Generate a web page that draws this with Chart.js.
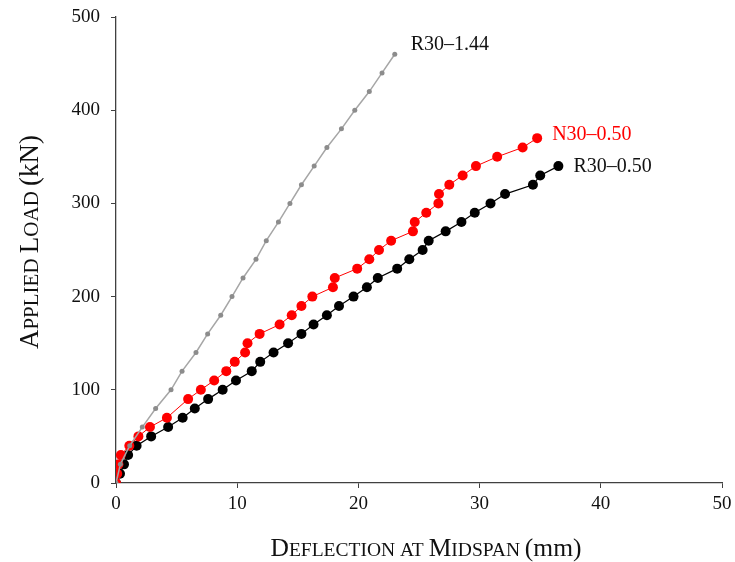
<!DOCTYPE html>
<html>
<head>
<meta charset="utf-8">
<script src="https://cdn.jsdelivr.net/npm/chart.js@4.4.1/dist/chart.umd.min.js"></script>
<style>
  html, body { margin: 0; padding: 0; background: #fff; }
  #wrap { width: 735px; height: 562px; }
</style>
</head>
<body>
<div id="wrap"><canvas id="loadChart" width="735" height="562"></canvas></div>
<script>
// Load-deflection data

// R30-1.44 (grey, small markers)
const grayDefl = [0, 0.36, 1.13, 2.17, 3.27, 4.54, 5.45, 6.6, 7.56, 8.64, 9.57, 10.48,
	11.55, 12.4, 13.4, 14.35, 15.3, 16.35, 17.4, 18.6, 19.7, 20.9, 21.95, 23.0];
const grayLoad = [0, 20, 40, 60, 80, 100, 120, 140, 160, 180, 200, 220,
	240, 260, 280, 300, 320, 340, 360, 380, 400, 420, 440, 460];

// N30-0.50 (red)
const redDefl = [0, 0.1, 0.2, 0.4, 1.1, 1.85, 2.8, 4.2, 5.95, 7.0, 8.1, 9.1, 9.8,
	10.65, 10.85, 11.85, 13.5, 14.5, 15.3, 16.2, 17.9, 18.05, 19.9, 20.9, 21.7, 22.7,
	24.5, 24.65, 25.6, 26.6, 26.65, 27.5, 28.6, 29.7, 31.45, 33.55, 34.75];
const redLoad = [0, 10, 20, 30, 40, 50, 60, 70, 90, 100, 110, 120, 130,
	140, 150, 160, 170, 180, 190, 200, 210, 220, 230, 240, 250, 260,
	270, 280, 290, 300, 310, 320, 330, 340, 350, 360, 370];

// R30-0.50 (black)
const blackDefl = [0, 0.33, 0.66, 1.0, 1.7, 2.9, 4.3, 5.5, 6.5, 7.6, 8.8, 9.9, 11.2,
	11.9, 13.0, 14.2, 15.3, 16.3, 17.4, 18.4, 19.6, 20.7, 21.6, 23.2, 24.2, 25.3,
	25.8, 27.2, 28.5, 29.6, 30.9, 32.1, 34.4, 35.0, 36.5];
const blackLoad = [0, 10, 20, 30, 40, 50, 60, 70, 80, 90, 100, 110, 120,
	130, 140, 150, 160, 170, 180, 190, 200, 210, 220, 230, 240, 250,
	260, 270, 280, 290, 300, 310, 320, 330, 340];

const seriesNames = ["R30\u20131.44", "N30\u20130.50", "R30\u20130.50"];
const xTicks = [0, 10, 20, 30, 40, 50];
const yTicks = [0, 100, 200, 300, 400, 500];

// axis titles, split in [text, smallCaps] pieces
const xTitle = [["D", false], ["EFLECTION AT ", true], ["M", false], ["IDSPAN ", true], ["(mm)", false]];
const yTitle = [["A", false], ["PPLIED ", true], ["L", false], ["OAD ", true], ["(kN)", false]];

function toPoints(xs, ys){
	return xs.map((x, i) => ({ x: x, y: ys[i] }));
}

const serif = "'Liberation Serif', 'Times New Roman', serif";

function drawPieces(ctx, pieces, cx, cy, big, small){
	let total = 0;
	pieces.forEach(p => {
		ctx.font = (p[1] ? small : big) + "px " + serif;
		total += ctx.measureText(p[0]).width;
	});
	let x = cx - total / 2;
	pieces.forEach(p => {
		ctx.font = (p[1] ? small : big) + "px " + serif;
		ctx.fillText(p[0], x, cy);
		x += ctx.measureText(p[0]).width;
	});
}

// axis titles with small capitals
const axisTitles = {
	id: "axisTitles",
	afterDraw(chart){
		const ctx = chart.ctx;
		ctx.save();
		ctx.fillStyle = "#111";
		ctx.textBaseline = "alphabetic";
		ctx.textAlign = "left";
		drawPieces(ctx, xTitle, 426, 556, 25.5, 19.5);
		ctx.translate(38, 242);
		ctx.rotate(-Math.PI / 2);
		drawPieces(ctx, yTitle, 0, 0, 27, 21);
		ctx.restore();
	}
};

// write the series name next to the last point of each line
const endLabels = {
	id: "endLabels",
	afterDatasetsDraw(chart){
		const ctx = chart.ctx;
		const offsets = [[16, -10], [15, -3], [15, 1]];
		ctx.save();
		ctx.font = "20px " + serif;
		ctx.textBaseline = "middle";
		ctx.textAlign = "left";
		chart.data.datasets.forEach((ds, i) => {
			const meta = chart.getDatasetMeta(i);
			const last = meta.data[meta.data.length - 1];
			ctx.fillStyle = ds.labelColor;
			ctx.fillText(ds.label, last.x + offsets[i][0], last.y + offsets[i][1]);
		});
		ctx.restore();
	}
};

const ctx = document.getElementById("loadChart").getContext("2d");
new Chart(ctx, {
	type: "scatter",
	data: {
		datasets: [
			{
				label: seriesNames[0],
				data: toPoints(grayDefl, grayLoad),
				showLine: true,
				borderColor: "#a6a6a6",
				borderWidth: 1.5,
				pointRadius: 2.5,
				pointBackgroundColor: "#8c8c8c",
				pointBorderColor: "#8c8c8c",
				pointBorderWidth: 0,
				labelColor: "#111"
			},
			{
				label: seriesNames[1],
				data: toPoints(redDefl, redLoad),
				showLine: true,
				borderColor: "#ff0000",
				borderWidth: 1,
				pointRadius: 5,
				pointBackgroundColor: "#ff0000",
				pointBorderColor: "#ff0000",
				pointBorderWidth: 0,
				labelColor: "#ff0000"
			},
			{
				label: seriesNames[2],
				data: toPoints(blackDefl, blackLoad),
				showLine: true,
				borderColor: "#000",
				borderWidth: 1.2,
				pointRadius: 5,
				pointBackgroundColor: "#000",
				pointBorderColor: "#000",
				pointBorderWidth: 0,
				labelColor: "#111"
			}
		]
	},
	options: {
		responsive: false,
		animation: false,
		layout: { padding: { top: 17, right: 13, left: 0, bottom: 0 } },
		plugins: {
			legend: { display: false },
			tooltip: { enabled: false }
		},
		scales: {
			x: {
				type: "linear",
				min: 0,
				max: 50,
				afterBuildTicks: s => { s.ticks = xTicks.map(v => ({ value: v })); },
				afterFit: s => { s.height = 79; s.paddingLeft = 0; s.paddingRight = 0; },
				border: { display: true, color: "#404040", width: 1.3 },
				grid: { display: true, drawOnChartArea: false, drawTicks: true, tickLength: 5, color: "#404040" },
				ticks: { color: "#111", padding: 5, font: { family: serif, size: 19 } }
			},
			y: {
				type: "linear",
				min: 0,
				max: 500,
				afterBuildTicks: s => { s.ticks = yTicks.map(v => ({ value: v })); },
				afterFit: s => { s.width = 116; s.paddingTop = 0; s.paddingBottom = 0; },
				border: { display: true, color: "#404040", width: 1.3 },
				grid: { display: true, drawOnChartArea: false, drawTicks: true, tickLength: 5, color: "#404040" },
				ticks: { color: "#111", padding: 11, font: { family: serif, size: 19 } }
			}
		}
	},
	plugins: [endLabels, axisTitles]
});
</script>
</body>
</html>
